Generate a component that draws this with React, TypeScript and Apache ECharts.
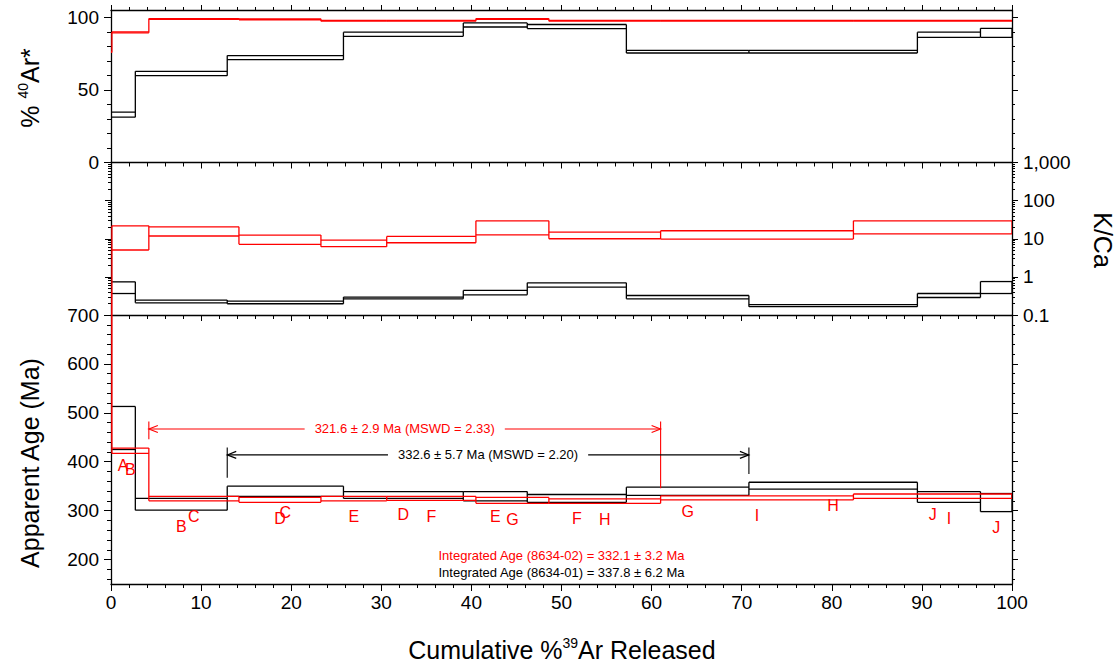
import React, { useEffect, useRef } from 'react';
import * as echarts from 'echarts';

const FONT = "'Liberation Sans', Arial, Helvetica, sans-serif";
const RED = '#ff0000';
const BLACK = '#000000';

// Cumulative %39Ar step boundaries
const blackBounds = [0, 2.7, 12.9, 25.8, 39.1, 46.2, 57.2, 70.8, 89.5, 96.5, 100];
const redBounds = [0, 0.1, 4.2, 14.2, 23.3, 30.6, 40.5, 48.6, 61.0, 82.4, 100];

// Step labels
const blackLabels = ['A', 'B', 'C', 'D', 'E', 'F', 'G', 'H', 'I', 'J'];
const redLabels = ['', 'B', 'C', 'D', 'E', 'F', 'G', 'H', 'I', 'J'];

// %40Ar* (low / high of each step box)
const blackArLow = [31.2, 59.8, 70.8, 86.9, 93.3, 92.2, 75.4, 75.4, 86.2, 86.2];
const blackArHigh = [34.7, 62.8, 73.6, 89.7, 96.1, 95.0, 77.2, 77.2, 89.7, 92.4];
const redArLow = [75.8, 89.3, 98.5, 98.3, 97.3, 97.3, 98.5, 97.3, 97.3, 97.3];
const redArHigh = [76.4, 89.9, 99.1, 98.9, 97.9, 97.9, 99.1, 97.9, 97.9, 97.9];

// K/Ca
const blackKCaLow = [0.366, 0.209, 0.197, 0.266, 0.339, 0.538, 0.266, 0.165, 0.288, 0.366];
const blackKCaHigh = [0.74, 0.246, 0.232, 0.295, 0.44, 0.7, 0.325, 0.186, 0.366, 0.754];
const redKCaLow = [0.05, 5.07, 11.8, 7.15, 6.2, 7.86, 12.7, 10.0, 9.8, 13.5];
const redKCaHigh = [0.4, 21.8, 20.6, 12.5, 9.25, 11.5, 29.6, 14.9, 16.2, 29.6];

// Apparent age (Ma)
const blackAgeLow = [425, 301, 329, 325, 320, 317, 331, 344, 317, 298];
const blackAgeHigh = [513, 325, 350, 339, 339, 333, 348, 358, 339, 335];
const redAgeLow = [440, 417, 320, 317, 320, 321, 315, 315, 322, 325];
const redAgeHigh = [1500, 428, 329, 327, 329, 329, 327, 324, 330, 334];

// Plateau annotations (red = 8634-02, black = 8634-01)
const plateauStart = [4.2, 12.9];
const plateauEnd = [61.0, 70.8];
const plateauAge = [467, 414];
const plateauBarTop = [482, 429];
const plateauLeftBottom = [446, 367];
const plateauRightBottom = [346, 375];
const plateauText = ['321.6 ± 2.9 Ma (MSWD = 2.33)', '332.6 ± 5.7 Ma (MSWD = 2.20)'];
const plateauColor = [RED, BLACK];

// Integrated ages
const integratedText = [
  'Integrated Age (8634-02) = 332.1 ± 3.2 Ma',
  'Integrated Age (8634-01) = 337.8 ± 6.2 Ma',
];
const integratedX = [50, 50];
const integratedAge = [209, 174];
const integratedColor = [RED, BLACK];

// Tick values
const xMajor = [0, 10, 20, 30, 40, 50, 60, 70, 80, 90, 100];
const xMinor = [2, 4, 6, 8, 12, 14, 16, 18, 22, 24, 26, 28, 32, 34, 36, 38, 42, 44, 46, 48,
  52, 54, 56, 58, 62, 64, 66, 68, 72, 74, 76, 78, 82, 84, 86, 88, 92, 94, 96, 98];
const arMajor = [0, 50, 100];
const arMinor = [10, 20, 30, 40, 60, 70, 80, 90];
const kcaMajor = [0.1, 1, 10, 100, 1000];
const kcaMajorLabels = ['0.1', '1', '10', '100', '1,000'];
const kcaMinor = [0.2, 0.3, 0.4, 0.5, 0.6, 0.7, 0.8, 0.9, 2, 3, 4, 5, 6, 7, 8, 9,
  20, 30, 40, 50, 60, 70, 80, 90, 200, 300, 400, 500, 600, 700, 800, 900];
const ageMajor = [200, 300, 400, 500, 600, 700];
const ageMinor = [160, 180, 220, 240, 260, 280, 320, 340, 360, 380, 420, 440, 460, 480,
  520, 540, 560, 580, 620, 640, 660, 680];

const AXIS_LINE = { color: '#000', width: 1.3 };
const TICK_LINE = { color: '#000', width: 1 };

function xAx(grid: number, pos: string, values: number[], len: number, inside: boolean, labels: boolean, line: boolean) {
  return {
    type: 'value', gridIndex: grid, position: pos, min: 0, max: 100,
    axisLine: { show: line, onZero: false, lineStyle: AXIS_LINE },
    axisTick: { show: true, inside, length: len, customValues: values, lineStyle: TICK_LINE },
    axisLabel: {
      show: labels, customValues: values, margin: 9, fontSize: 19, color: '#000', fontFamily: FONT,
    },
    splitLine: { show: false },
  };
}

function yAx(grid: number, pos: string, type: string, min: number, max: number, values: number[], len: number,
  labels: boolean, line: boolean, formatter?: any, margin = 12) {
  const ax: any = {
    type, gridIndex: grid, position: pos, min, max,
    axisLine: { show: line, onZero: false, lineStyle: AXIS_LINE },
    axisTick: { show: true, inside: false, length: len, customValues: values, lineStyle: TICK_LINE },
    axisLabel: {
      show: labels, customValues: values, margin, fontSize: 19, color: '#000', fontFamily: FONT,
      formatter,
    },
    splitLine: { show: false },
  };
  if (type === 'log') ax.logBase = 10;
  return ax;
}

function stepsSeries(xi: number, yi: number, bounds: number[], lows: number[], highs: number[],
  color: string, labels: string[] | null) {
  const data = lows.map((lo, i) => [bounds[i], bounds[i + 1], lo, highs[i]]);
  const last = lows.length - 1;
  return {
    type: 'custom', xAxisIndex: xi, yAxisIndex: yi, clip: true, silent: true,
    encode: { x: [0, 1], y: [2, 3] },
    data,
    renderItem: (params: any, api: any) => {
      const i = params.dataIndex;
      const x0 = api.value(0), x1 = api.value(1), lo = api.value(2), hi = api.value(3);
      const tl = api.coord([x0, hi]);
      const br = api.coord([x1, lo]);
      const st = { stroke: color, lineWidth: 1.3, fill: 'none' };
      const children: any[] = [
        { type: 'line', shape: { x1: tl[0], y1: tl[1], x2: br[0], y2: tl[1] }, style: st },
        { type: 'line', shape: { x1: tl[0], y1: br[1], x2: br[0], y2: br[1] }, style: st },
      ];
      const vLo = i > 0 ? Math.min(lo, lows[i - 1]) : lo;
      const vHi = i > 0 ? Math.max(hi, highs[i - 1]) : hi;
      const a = api.coord([x0, vHi]);
      const b = api.coord([x0, vLo]);
      children.push({ type: 'line', shape: { x1: a[0], y1: a[1], x2: b[0], y2: b[1] }, style: st });
      if (i === last) {
        children.push({ type: 'line', shape: { x1: br[0], y1: tl[1], x2: br[0], y2: br[1] }, style: st });
      }
      if (labels && labels[i]) {
        children.push({
          type: 'text', x: (tl[0] + br[0]) / 2, y: br[1] + 16,
          style: {
            text: labels[i], fill: RED, fontSize: 16, fontFamily: FONT,
            align: 'center', verticalAlign: 'middle',
          },
        });
      }
      return { type: 'group', children };
    },
  };
}

function plateauSeries(xi: number, yi: number) {
  const data = plateauStart.map((s, i) => [s, plateauEnd[i], plateauAge[i], plateauBarTop[i],
    plateauLeftBottom[i], plateauRightBottom[i]]);
  return {
    type: 'custom', xAxisIndex: xi, yAxisIndex: yi, clip: false, silent: true,
    encode: { x: [0, 1], y: 2 },
    data,
    renderItem: (params: any, api: any) => {
      const i = params.dataIndex;
      const color = plateauColor[i];
      const st = { stroke: color, lineWidth: 1.1, fill: 'none' };
      const pL = api.coord([api.value(0), api.value(2)]);
      const pR = api.coord([api.value(1), api.value(2)]);
      const lTop = api.coord([api.value(0), api.value(3)]);
      const lBot = api.coord([api.value(0), api.value(4)]);
      const rTop = api.coord([api.value(1), api.value(3)]);
      const rBot = api.coord([api.value(1), api.value(5)]);
      const y = pL[1];
      return {
        type: 'group',
        children: [
          { type: 'line', shape: { x1: pL[0], y1: y, x2: pR[0], y2: y }, style: st },
          { type: 'polyline', shape: { points: [[pL[0] + 9, y - 3.5], [pL[0], y], [pL[0] + 9, y + 3.5]] }, style: st },
          { type: 'polyline', shape: { points: [[pR[0] - 9, y - 3.5], [pR[0], y], [pR[0] - 9, y + 3.5]] }, style: st },
          { type: 'line', shape: { x1: lTop[0], y1: lTop[1], x2: lBot[0], y2: lBot[1] }, style: st },
          { type: 'line', shape: { x1: rTop[0], y1: rTop[1], x2: rBot[0], y2: rBot[1] }, style: st },
          {
            type: 'text', x: (pL[0] + pR[0]) / 2, y,
            style: {
              text: plateauText[i], fill: color, fontSize: 13, fontFamily: FONT,
              align: 'center', verticalAlign: 'middle', backgroundColor: '#ffffff', padding: [2, 10, 2, 10],
            },
          },
        ],
      };
    },
  };
}

function integratedSeries(xi: number, yi: number) {
  const data = integratedX.map((x, i) => [x, integratedAge[i]]);
  return {
    type: 'custom', xAxisIndex: xi, yAxisIndex: yi, clip: false, silent: true,
    encode: { x: 0, y: 1 },
    data,
    renderItem: (params: any, api: any) => {
      const i = params.dataIndex;
      const p = api.coord([api.value(0), api.value(1)]);
      return {
        type: 'text', x: p[0], y: p[1],
        style: {
          text: integratedText[i], fill: integratedColor[i], fontSize: 13, fontFamily: FONT,
          align: 'center', verticalAlign: 'middle',
        },
      };
    },
  };
}

const titleTok = { fontSize: 25, fontFamily: FONT, fill: '#000', lineHeight: 28 };
const supTok = { fontSize: 14, fontFamily: FONT, fill: '#000', verticalAlign: 'top', lineHeight: 28 };

export default function App() {
  const ref = useRef<HTMLDivElement>(null);
  useEffect(() => {
    if (!ref.current) return;
    const chart = echarts.init(ref.current, undefined, { renderer: 'svg' });
    const arFmt = (v: number) => (arMajor.indexOf(Math.round(v)) >= 0 ? String(Math.round(v)) : '');
    const ageFmt = (v: number) => String(Math.round(v));
    const kcaFmt = (v: number) => {
      const r = Math.round(Math.log10(v));
      return kcaMajorLabels[r + 1] ?? '';
    };
    const option: any = {
      animation: false,
      backgroundColor: '#ffffff',
      grid: [
        { left: 111, right: 108, top: 10, height: 152.5 },
        { left: 111, right: 108, top: 162.5, height: 152.5 },
        { left: 111, right: 108, top: 315, height: 269 },
      ],
      xAxis: [
        xAx(0, 'top', xMajor, 5, false, false, true),
        xAx(0, 'top', xMinor, 3, false, false, false),
        xAx(1, 'top', xMajor, 6, true, false, true),
        xAx(1, 'top', xMinor, 4, true, false, false),
        xAx(2, 'top', xMajor, 6, true, false, true),
        xAx(2, 'top', xMinor, 4, true, false, false),
        xAx(2, 'bottom', xMajor, 7, false, true, true),
        xAx(2, 'bottom', xMinor, 4, false, false, false),
      ],
      yAxis: [
        yAx(0, 'left', 'value', 0, 105, arMajor, 7, true, true, arFmt),
        yAx(0, 'left', 'value', 0, 105, arMinor, 4, false, false),
        yAx(0, 'right', 'value', 0, 105, arMajor, 6, false, true),
        yAx(0, 'right', 'value', 0, 105, arMinor, 3, false, false),
        yAx(1, 'left', 'log', 0.1, 1000, kcaMajor, 6, false, true),
        yAx(1, 'left', 'log', 0.1, 1000, kcaMinor, 3, false, false),
        yAx(1, 'right', 'log', 0.1, 1000, kcaMajor, 6, true, true, kcaFmt, 11),
        yAx(1, 'right', 'log', 0.1, 1000, kcaMinor, 3, false, false),
        yAx(2, 'left', 'value', 150, 700, ageMajor, 7, true, true, ageFmt),
        yAx(2, 'left', 'value', 150, 700, ageMinor, 4, false, false),
        yAx(2, 'right', 'value', 150, 700, ageMajor, 6, false, true),
        yAx(2, 'right', 'value', 150, 700, ageMinor, 3, false, false),
      ],
      series: [
        stepsSeries(0, 0, blackBounds, blackArLow, blackArHigh, BLACK, null),
        stepsSeries(0, 0, redBounds, redArLow, redArHigh, RED, null),
        stepsSeries(2, 4, blackBounds, blackKCaLow, blackKCaHigh, BLACK, null),
        stepsSeries(2, 4, redBounds, redKCaLow, redKCaHigh, RED, null),
        stepsSeries(4, 8, blackBounds, blackAgeLow, blackAgeHigh, BLACK, blackLabels),
        stepsSeries(4, 8, redBounds, redAgeLow, redAgeHigh, RED, redLabels),
        plateauSeries(4, 8),
        integratedSeries(4, 8),
      ],
      graphic: [
        {
          type: 'text', x: 30, y: 88, rotation: Math.PI / 2,
          style: {
            text: '{a|% }{s|40}{a|Ar*}', rich: { a: titleTok, s: supTok },
            align: 'center', verticalAlign: 'middle',
          },
        },
        {
          type: 'text', x: 30, y: 463, rotation: Math.PI / 2,
          style: {
            text: 'Apparent Age (Ma)', fontSize: 25, fontFamily: FONT, fill: '#000',
            align: 'center', verticalAlign: 'middle',
          },
        },
        {
          type: 'text', x: 1103, y: 240, rotation: -Math.PI / 2,
          style: {
            text: 'K/Ca', fontSize: 25, fontFamily: FONT, fill: '#000',
            align: 'center', verticalAlign: 'middle',
          },
        },
        {
          type: 'text', x: 562, y: 650,
          style: {
            text: '{a|Cumulative %}{s|39}{a|Ar Released}', rich: { a: titleTok, s: supTok },
            align: 'center', verticalAlign: 'middle',
          },
        },
      ],
    };
    chart.setOption(option);
    return () => chart.dispose();
  }, []);
  return (
    <div
      ref={ref}
      style={{ position: 'fixed', left: 0, top: 0, width: 1120, height: 668, background: '#fff' }}
    />
  );
}
